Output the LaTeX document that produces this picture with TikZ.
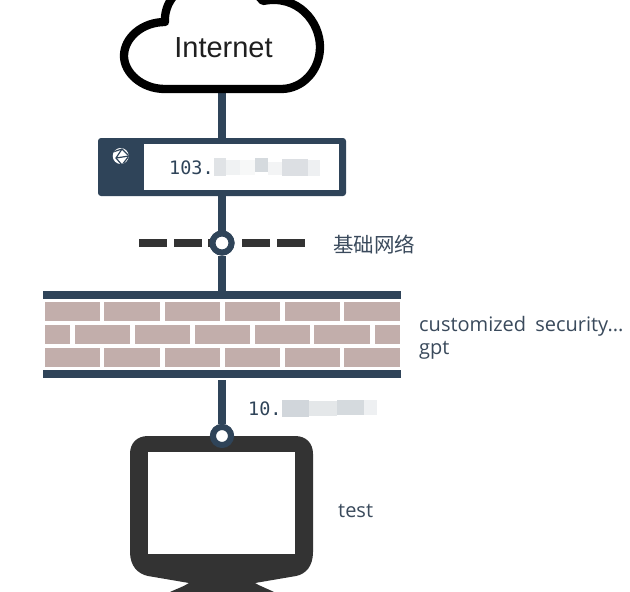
\documentclass[tikz,border=0pt]{standalone}
\usepackage{fontspec}
\setmainfont{Open Sans}
\newfontfamily\cjk{Noto Sans CJK SC}
\newfontfamily\arial{Liberation Sans}
\newfontfamily\monof{DejaVu Sans Mono}
\definecolor{navy}{HTML}{2F4459}
\definecolor{dark}{HTML}{333333}
\definecolor{brick}{HTML}{C2AEAB}
\definecolor{lbl}{HTML}{3A4A5C}
\tikzset{
  link/.style={draw=navy,line width=8.7pt},
  bar/.style={fill=navy,draw=none},
  brickc/.style={fill=brick,draw=none},
  dash seg/.style={fill=dark,draw=none},
  port/.style={circle,draw=navy,fill=white,line width=6pt,minimum size=19pt,inner sep=0pt},
  label text/.style={text=lbl,anchor=west,inner sep=0pt,font=\fontsize{20}{22}\selectfont},
  addr/.style={text=navy,anchor=west,inner sep=0pt,font=\monof\fontsize{18.5}{20}\selectfont},
}
\begin{document}
\begin{tikzpicture}[x=1pt,y=-1pt]
\useasboundingbox (0,0) rectangle (630,592);
\fill[white] (0,0) rectangle (630,592);
\clip (0,0) rectangle (630,592);
% anchors
\coordinate (cloudb) at (222,90);
\coordinate (ipbox) at (222,141);
\coordinate (ipboxb) at (222,193);
\coordinate (fwt) at (222,293);
\coordinate (fwb) at (222,380);
\node[port] (netport) at (222,243) {};
\node[port,minimum size=18pt] (pcport) at (222,436) {};
% connectors
\draw[link] (cloudb) -- (ipbox);
\draw[link] (ipboxb) -- (netport);
\draw[link] (netport) -- (fwt);
\draw[link] (fwb) -- (pcport);
% cloud
\draw[black,fill=white,line width=8.3pt,line join=round]
  (165,89) .. controls (141,89) and (124,72) .. (124,56)
  .. controls (124,38) and (142,22) .. (165,22)
  .. controls (164,8) and (172,-12) .. (200,-20)
  .. controls (225,-26) and (250,-14) .. (263,1)
  .. controls (298,-6) and (320,22) .. (320,47)
  .. controls (320,70) and (303,89) .. (281,89) -- cycle;
\node[inner sep=0pt,text=dark!60!black,font=\arial\fontsize{29}{32}\selectfont] (internet) at (223.5,47.5) {Internet};
% IP box
\fill[navy,rounded corners=3pt] (98,138) rectangle (346,196);
\fill[white] (144,144) rectangle (339,190);
% globe
\fill[white] (120.7,156) circle (8);
\begin{scope}
\clip (120.7,156) circle (8);
\draw[navy,line width=1.2pt] (113,152) -- (122,149) -- (129,156) -- (122,165);
\draw[navy,line width=1.2pt] (122,149) -- (116,158) -- (122,165);
\draw[navy,line width=1.2pt] (116,158) -- (129,156);
\end{scope}
\node[addr] (pubip) at (169,167.5) {103.};
\fill[white!85!navy] (214,158) rectangle (226,176);
\fill[white!93!navy] (226,160) rectangle (240,175);
\fill[white!96!navy] (240,160) rectangle (255,175);
\fill[white!80!navy] (255,158) rectangle (268,172);
\fill[white!94!navy] (268,162) rectangle (282,175);
\fill[white!83!navy] (282,159) rectangle (308,176);
\fill[white!92!navy] (308,160) rectangle (320,176);
% dashed network
\fill[dash seg] (139,239) rectangle (167,247);
\fill[dash seg] (174,239) rectangle (202,247);
\fill[dash seg] (242,239) rectangle (270,247);
\fill[dash seg] (277,239) rectangle (305,247);
\fill[dash seg] (208,239) rectangle (211,247);
\node[port] at (netport) {};
\node[label text,font=\cjk\fontsize{20.5}{22}\selectfont] (netlabel) at (333,244.5) {基础网络};
% firewall
\fill[bar] (43,291) rectangle (401,299);
\fill[bar] (43,370) rectangle (401,378);
\foreach \a/\b in {44.7/100,104.3/160,164.5/220,224.5/280,284.5/340,344/400}{
  \fill[brickc] (\a,302.3) rectangle (\b,320.7);
  \fill[brickc] (\a,348.3) rectangle (\b,366.7);
}
\foreach \a/\b in {44.7/70,74.7/130,134.5/190,194.5/250,254.5/310,314/370,374.5/400}{
  \fill[brickc] (\a,325.3) rectangle (\b,343.7);
}
\node[label text,align=left,anchor=north west,font=\fontsize{20}{23}\selectfont] (fwlabel) at (419,316.5) {customized\hspace{4pt} security...\\gpt};
% private ip
\node[addr] (privip) at (248,408.5) {10.};
\fill[white!78!navy] (282,400) rectangle (309,417);
\fill[white!87!navy] (309,401) rectangle (337,416);
\fill[white!80!navy] (337,400) rectangle (364,415);
\fill[white!92!navy] (364,400) rectangle (377,415);
% monitor
\fill[dark] (148,436) -- (295,436) .. controls (306,436) and (313,443) .. (313,454)
  -- (313,552) .. controls (313,566) and (306,574) .. (296,576)
  -- (255,583) .. controls (262,587) and (268,589) .. (274,592)
  -- (170,592) .. controls (176,589) and (183,587) .. (189,583)
  -- (148,576) .. controls (138,574) and (130,566) .. (130,552)
  -- (130,454) .. controls (130,443) and (137,436) .. (148,436) -- cycle;
\fill[white] (148,452) rectangle (295,554);
\node[port,minimum size=18pt] at (pcport) {};
\node[label text] (pclabel) at (338,511) {test};
\end{tikzpicture}
\end{document}
